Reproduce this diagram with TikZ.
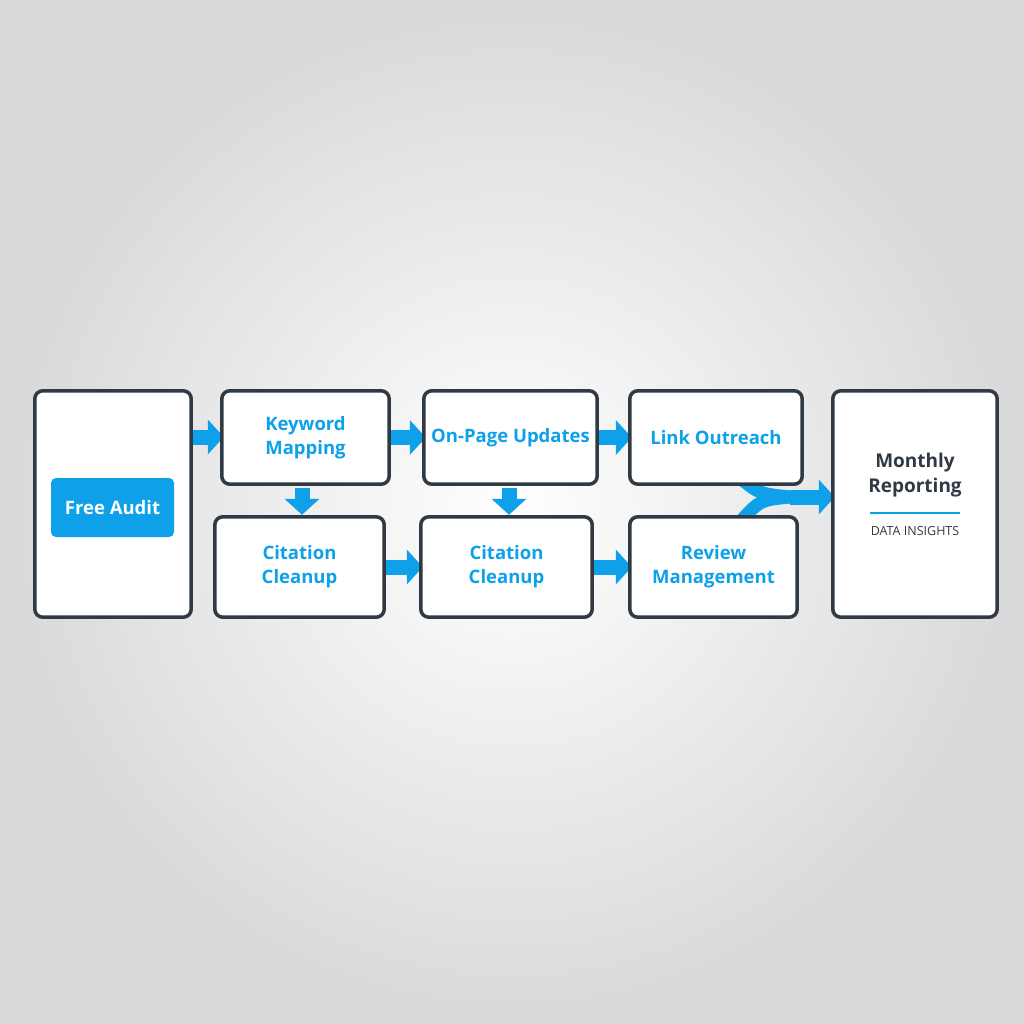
\documentclass[tikz,border=0pt]{standalone}
\usepackage{fontspec}
\setmainfont{Open Sans}
\usetikzlibrary{arrows.meta}
\definecolor{bl}{HTML}{0EA0E8}
\definecolor{dk}{HTML}{2F3A45}
\tikzset{
 card/.style={draw=dk,line width=3.5pt,fill=white,rounded corners=8pt},
 flow/.style={draw=bl,line width=15pt,-{Triangle[width=34pt,length=16pt]}},
 lbl/.style={font=\bfseries\fontsize{18.5}{24}\selectfont,text=bl,align=center},
}
\begin{document}
\begin{tikzpicture}[x=1pt,y=-1pt]
\shade[inner color=white,outer color=black!15] (0,0) rectangle (1024,1024);
\useasboundingbox (0,0) rectangle (1024,1024);
\coordinate (kw) at (222,437);
\path (113,504) node[minimum width=156pt,minimum height=226pt] (free) {};
\path (305.5,437.5) node[minimum width=167pt,minimum height=93pt] (key) {};
\path (510.5,437.5) node[minimum width=173pt,minimum height=93pt] (onp) {};
\path (716,437.5) node[minimum width=172pt,minimum height=93pt] (link) {};
\path (915,504) node[minimum width=164pt,minimum height=226pt] (mon) {};
\path (299.5,567) node[minimum width=169pt,minimum height=100pt] (cc1) {};
\path (506.5,567) node[minimum width=171pt,minimum height=100pt] (cc2) {};
\path (713.5,567) node[minimum width=167pt,minimum height=100pt] (rev) {};
\draw[flow] (free.east|-kw) ++(-4,0) -- ([xshift=2pt]key.west|-kw);
\draw[flow] ([xshift=-4pt]key.east) -- ([xshift=2pt]onp.west);
\draw[flow] ([xshift=-4pt]onp.east) -- ([xshift=2pt]link.west);
\draw[flow] ([yshift=-4pt]key.south-|302,0) -- ([yshift=2pt]cc1.north-|302,0);
\draw[flow] ([yshift=-4pt]onp.south-|509,0) -- ([yshift=2pt]cc2.north-|509,0);
\draw[flow] ([xshift=-4pt]cc1.east) -- ([xshift=2pt]cc2.west);
\draw[flow] ([xshift=-4pt]cc2.east) -- ([xshift=2pt]rev.west);
\coordinate (m1) at (740,478);
\coordinate (m2) at (740,522);
\coordinate (mj) at (790,497);
\draw[draw=bl,line width=13pt] (m1) .. controls (760,494) .. (mj);
\draw[draw=bl,line width=13pt] (m2) .. controls (760,500) .. (mj);
\draw[flow] (mj) -- ([xshift=2pt]mon.west|-mj);
\foreach \n in {free,key,onp,link,mon,cc1,cc2,rev}
  \draw[card] (\n.north west) rectangle (\n.south east);
\node[fill=bl,rounded corners=5pt,minimum width=123pt,minimum height=59pt,font=\bfseries\fontsize{18.5}{22}\selectfont,text=white] (fab) at (112.5,507.5) {Free Audit};
\node[lbl] at (key) {Keyword\\Mapping};
\node[lbl] at (onp) {On-Page Updates};
\node[lbl] at (link) {Link Outreach};
\node[lbl] at (cc1) {Citation\\Cleanup};
\node[lbl] at (cc2) {Citation\\Cleanup};
\node[lbl] at (rev) {Review\\Management};
\node[font=\bfseries\fontsize{19}{25}\selectfont,text=dk,align=center] (mt) at (915,475) {Monthly\\Reporting};
\draw[bl,line width=2.5pt] (870,513) -- (960,513);
\node[font=\fontsize{12.5}{14}\selectfont,text=dk] (di) at (915,531) {DATA INSIGHTS};
\end{tikzpicture}
\end{document}
